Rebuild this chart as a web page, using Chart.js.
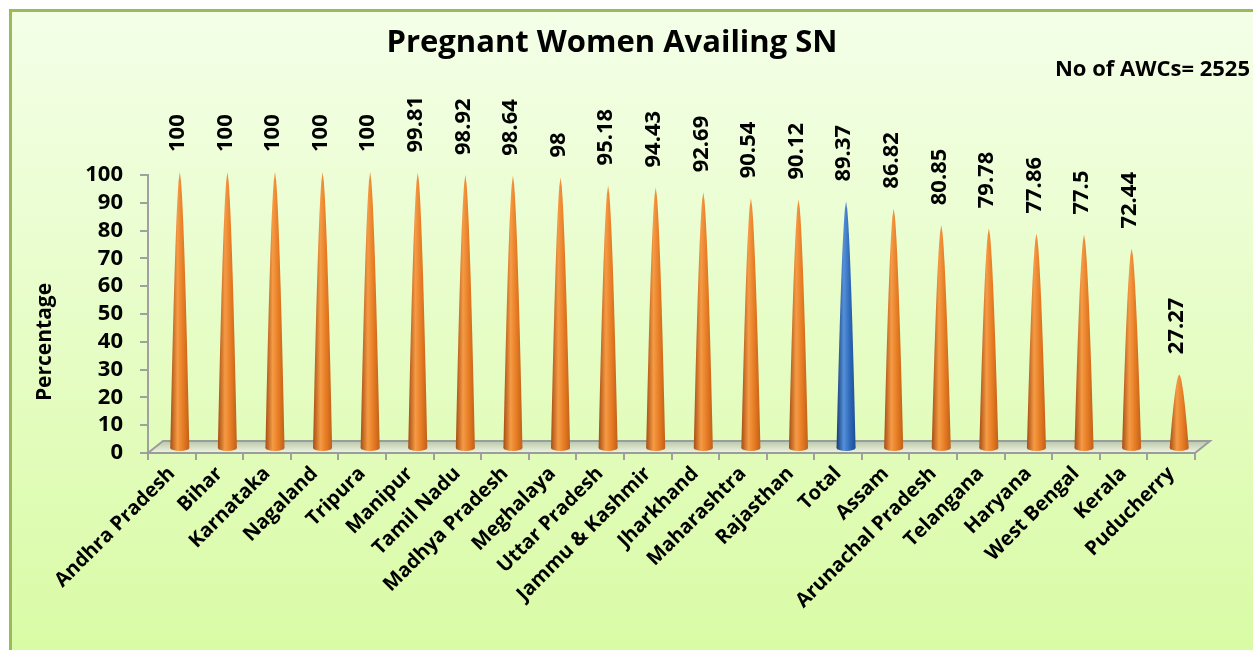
<!DOCTYPE html>
<html>
<head>
<meta charset="utf-8">
<title>Pregnant Women Availing SN</title>
<script src="https://cdn.jsdelivr.net/npm/chart.js@4.4.1/dist/chart.umd.min.js"></script>
<style>
  html, body { margin: 0; padding: 0; background: #fff; }
  canvas { display: block; }
</style>
</head>
<body>
<canvas id="chart" width="1253" height="650"></canvas>
<script>
// data
const states = ['Andhra Pradesh', 'Bihar', 'Karnataka', 'Nagaland', 'Tripura', 'Manipur',
  'Tamil Nadu', 'Madhya Pradesh', 'Meghalaya', 'Uttar Pradesh', 'Jammu & Kashmir',
  'Jharkhand', 'Maharashtra', 'Rajasthan', 'Total', 'Assam', 'Arunachal Pradesh',
  'Telangana', 'Haryana', 'West Bengal', 'Kerala', 'Puducherry'];
const percentages = [100, 100, 100, 100, 100, 99.81, 98.92, 98.64, 98, 95.18, 94.43,
  92.69, 90.54, 90.12, 89.37, 86.82, 80.85, 79.78, 77.86, 77.5, 72.44, 27.27];
const yTicks = [0, 10, 20, 30, 40, 50, 60, 70, 80, 90, 100];

const FONT = "'Open Sans', 'DejaVu Sans', sans-serif";
const DEPTH_X = 15, DEPTH_Y = 12;   // 3D floor offset
const orange = ['#a64d12', '#f59b45', '#e57a22', '#c0601a'];
const blue = ['#163c75', '#5590da', '#2e68b8', '#1e4e95'];

// page frame + gradient background
const backgroundPlugin = {
  id: 'background',
  beforeDraw(chart) {
    const ctx = chart.ctx;
    ctx.save();
    ctx.fillStyle = '#ffffff';
    ctx.fillRect(0, 0, chart.width, chart.height);
    const g = ctx.createLinearGradient(0, 10, 0, chart.height);
    g.addColorStop(0, '#f4ffe8');
    g.addColorStop(1, '#d9fba5');
    ctx.fillStyle = g;
    ctx.fillRect(10, 10, chart.width - 10, chart.height - 10);
    ctx.strokeStyle = '#9bbb59';
    ctx.lineWidth = 3;
    ctx.beginPath();
    ctx.moveTo(10.5, chart.height);
    ctx.lineTo(10.5, 10.5);
    ctx.lineTo(chart.width, 10.5);
    ctx.stroke();

    // titles
    ctx.fillStyle = '#000';
    ctx.textAlign = 'center';
    ctx.textBaseline = 'alphabetic';
    ctx.font = 'bold 31px ' + FONT;
    ctx.fillText('Pregnant Women Availing SN', 612, 52);
    ctx.textAlign = 'right';
    ctx.font = 'bold 22px ' + FONT;
    ctx.fillText('No of AWCs= 2525', 1250, 76);

    ctx.translate(45, 342);
    ctx.rotate(-Math.PI / 2);
    ctx.textAlign = 'center';
    ctx.textBaseline = 'middle';
    ctx.font = 'bold 21px ' + FONT;
    ctx.fillText('Percentage', 0, 0);
    ctx.restore();
  }
};

// floor of the 3D plot
const floorPlugin = {
  id: 'floor',
  beforeDatasetsDraw(chart) {
    const { ctx, chartArea: a } = chart;
    ctx.save();
    const g = ctx.createLinearGradient(0, a.bottom - DEPTH_Y, 0, a.bottom);
    g.addColorStop(0, '#b9c7a9');
    g.addColorStop(1, '#eef6e2');
    ctx.fillStyle = g;
    ctx.beginPath();
    ctx.moveTo(a.left, a.bottom);
    ctx.lineTo(a.right, a.bottom);
    ctx.lineTo(a.right + DEPTH_X, a.bottom - DEPTH_Y);
    ctx.lineTo(a.left + DEPTH_X, a.bottom - DEPTH_Y);
    ctx.closePath();
    ctx.fill();
    ctx.strokeStyle = '#9c9c9c';
    ctx.lineWidth = 2;
    ctx.stroke();
    ctx.restore();
  }
};

function drawCone(ctx, cx, baseY, tipY, halfW, c) {
  const g = ctx.createLinearGradient(cx - halfW, 0, cx + halfW, 0);
  g.addColorStop(0, c[0]);
  g.addColorStop(0.38, c[1]);
  g.addColorStop(0.7, c[2]);
  g.addColorStop(1, c[3]);
  ctx.fillStyle = g;
  ctx.beginPath();
  ctx.ellipse(cx, baseY, halfW, 3, 0, 0, Math.PI * 2);
  ctx.fill();
  ctx.beginPath();
  const steps = 30;
  for (let i = 0; i <= steps; i++) {
    const t = i / steps;
    const w = halfW * Math.pow(1 - t, 0.6);
    const y = baseY - t * (baseY - tipY);
    if (i === 0) ctx.moveTo(cx - w, y); else ctx.lineTo(cx - w, y);
  }
  for (let i = steps; i >= 0; i--) {
    const t = i / steps;
    const w = halfW * Math.pow(1 - t, 0.6);
    ctx.lineTo(cx + w, baseY - t * (baseY - tipY));
  }
  ctx.closePath();
  ctx.fill();
}

// cones + vertical value labels
const conePlugin = {
  id: 'cones',
  afterDatasetsDraw(chart) {
    const ctx = chart.ctx;
    const meta = chart.getDatasetMeta(0);
    ctx.save();
    meta.data.forEach((bar, i) => {
      const cx = bar.x + 8;
      const colors = states[i] === 'Total' ? blue : orange;
      drawCone(ctx, cx, bar.base - 4, bar.y - 3, bar.width / 2, colors);
    });
    ctx.fillStyle = '#000';
    ctx.font = 'bold 22px ' + FONT;
    ctx.textAlign = 'left';
    ctx.textBaseline = 'middle';
    meta.data.forEach((bar, i) => {
      ctx.save();
      ctx.translate(bar.x + 6, bar.y - 23);
      ctx.rotate(-Math.PI / 2);
      ctx.fillText(String(percentages[i]), 0, 0);
      ctx.restore();
    });
    ctx.restore();
  }
};

new Chart(document.getElementById('chart'), {
  type: 'bar',
  data: {
    labels: states,
    datasets: [{
      label: 'Percentage',
      data: percentages,
      backgroundColor: 'rgba(0,0,0,0)',
      borderWidth: 0,
      barPercentage: 0.5,
      categoryPercentage: 0.8
    }]
  },
  options: {
    responsive: false,
    animation: false,
    layout: { padding: { top: 175, right: 58, left: 0, bottom: 0 } },
    plugins: {
      legend: { display: false },
      title: { display: false },
      tooltip: { enabled: false }
    },
    scales: {
      x: {
        afterFit(scale) { scale.height = 197; },
        grid: { offset: true, drawOnChartArea: false, tickLength: 7, color: '#a0a0a0', lineWidth: 2 },
        border: { color: '#a0a0a0', width: 2 },
        ticks: {
          autoSkip: false,
          minRotation: 45,
          maxRotation: 45,
          color: '#000',
          padding: 2,
          font: { family: FONT, size: 20, weight: 'bold' }
        }
      },
      y: {
        min: 0,
        max: 100,
        afterFit(scale) { scale.width = 148; },
        afterBuildTicks(scale) { scale.ticks = yTicks.map(v => ({ value: v })); },
        grid: { drawOnChartArea: false, tickLength: 8, color: '#a0a0a0', lineWidth: 2 },
        border: { color: '#a0a0a0', width: 2 },
        ticks: {
          autoSkip: false,
          color: '#000',
          padding: 17,
          font: { family: FONT, size: 22, weight: 'bold' }
        }
      }
    }
  },
  plugins: [backgroundPlugin, floorPlugin, conePlugin]
});
</script>
</body>
</html>
